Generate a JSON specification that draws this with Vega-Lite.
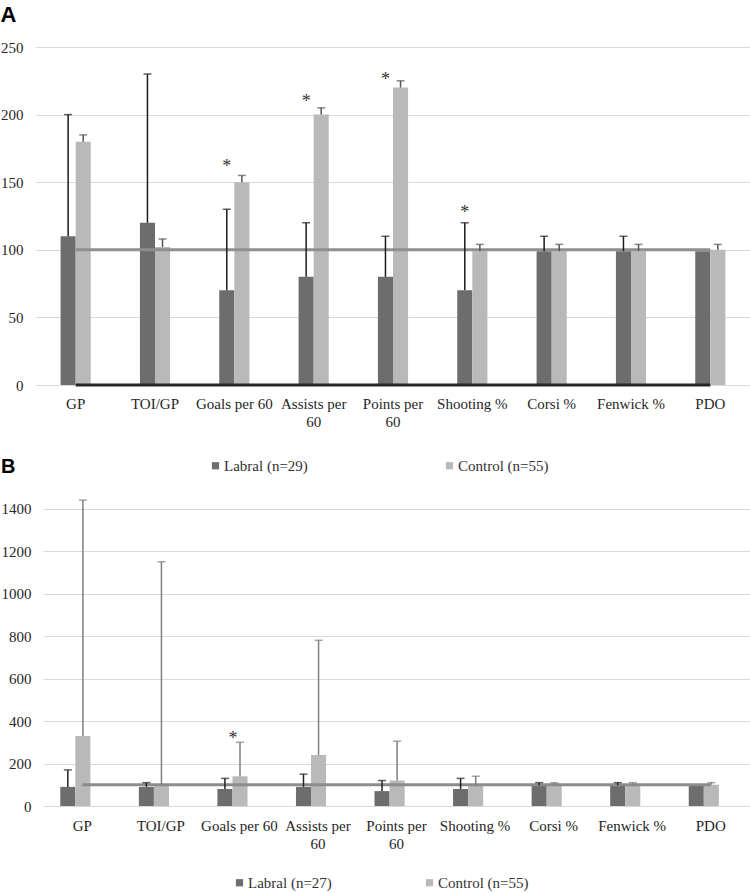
{
  "$schema": "https://vega.github.io/schema/vega-lite/v6.json",
  "background": "white",
  "padding": {"left": 0, "top": 4, "right": 0, "bottom": 0},
  "spacing": -17,
  "config": {
    "view": {"stroke": null},
    "axis": {"labelFont": "Liberation Serif", "labelFontSize": 15, "labelColor": "#262626", "domain": false, "ticks": false, "tickSize": 0, "title": null, "gridColor": "#d9d9d9", "gridWidth": 1.2},
    "title": {"font": "Liberation Sans", "fontWeight": "bold", "anchor": "start", "frame": "bounds", "color": "#000000", "baseline": "alphabetic"}
  },
  "datasets": {
    "A": [
      {"cat": "GP", "grp": "Labral", "series": "Labral (n=29)", "value": 110, "upper": 200, "star": null},
      {"cat": "GP", "grp": "Control", "series": "Control (n=55)", "value": 180, "upper": 185, "star": null},
      {"cat": "TOI/GP", "grp": "Labral", "series": "Labral (n=29)", "value": 120, "upper": 230, "star": null},
      {"cat": "TOI/GP", "grp": "Control", "series": "Control (n=55)", "value": 102, "upper": 108, "star": null},
      {"cat": "Goals per 60", "grp": "Labral", "series": "Labral (n=29)", "value": 70, "upper": 130, "star": 165},
      {"cat": "Goals per 60", "grp": "Control", "series": "Control (n=55)", "value": 150, "upper": 155, "star": null},
      {"cat": "Assists per 60", "grp": "Labral", "series": "Labral (n=29)", "value": 80, "upper": 120, "star": 213},
      {"cat": "Assists per 60", "grp": "Control", "series": "Control (n=55)", "value": 200, "upper": 205, "star": null},
      {"cat": "Points per 60", "grp": "Labral", "series": "Labral (n=29)", "value": 80, "upper": 110, "star": 229},
      {"cat": "Points per 60", "grp": "Control", "series": "Control (n=55)", "value": 220, "upper": 225, "star": null},
      {"cat": "Shooting %", "grp": "Labral", "series": "Labral (n=29)", "value": 70, "upper": 120, "star": 131},
      {"cat": "Shooting %", "grp": "Control", "series": "Control (n=55)", "value": 99, "upper": 104, "star": null},
      {"cat": "Corsi %", "grp": "Labral", "series": "Labral (n=29)", "value": 99, "upper": 110, "star": null},
      {"cat": "Corsi %", "grp": "Control", "series": "Control (n=55)", "value": 99, "upper": 104, "star": null},
      {"cat": "Fenwick %", "grp": "Labral", "series": "Labral (n=29)", "value": 99, "upper": 110, "star": null},
      {"cat": "Fenwick %", "grp": "Control", "series": "Control (n=55)", "value": 99, "upper": 104, "star": null},
      {"cat": "PDO", "grp": "Labral", "series": "Labral (n=29)", "value": 99, "upper": null, "star": null},
      {"cat": "PDO", "grp": "Control", "series": "Control (n=55)", "value": 100, "upper": 104, "star": null}
    ],
    "B": [
      {"cat": "GP", "grp": "Labral", "series": "Labral (n=27)", "value": 90, "upper": 170, "star": null},
      {"cat": "GP", "grp": "Control", "series": "Control (n=55)", "value": 330, "upper": 1440, "star": null},
      {"cat": "TOI/GP", "grp": "Labral", "series": "Labral (n=27)", "value": 90, "upper": 110, "star": null},
      {"cat": "TOI/GP", "grp": "Control", "series": "Control (n=55)", "value": 100, "upper": 1150, "star": null},
      {"cat": "Goals per 60", "grp": "Labral", "series": "Labral (n=27)", "value": 80, "upper": 130, "star": 337},
      {"cat": "Goals per 60", "grp": "Control", "series": "Control (n=55)", "value": 140, "upper": 300, "star": null},
      {"cat": "Assists per 60", "grp": "Labral", "series": "Labral (n=27)", "value": 90, "upper": 150, "star": null},
      {"cat": "Assists per 60", "grp": "Control", "series": "Control (n=55)", "value": 240, "upper": 780, "star": null},
      {"cat": "Points per 60", "grp": "Labral", "series": "Labral (n=27)", "value": 70, "upper": 120, "star": null},
      {"cat": "Points per 60", "grp": "Control", "series": "Control (n=55)", "value": 120, "upper": 305, "star": null},
      {"cat": "Shooting %", "grp": "Labral", "series": "Labral (n=27)", "value": 80, "upper": 130, "star": null},
      {"cat": "Shooting %", "grp": "Control", "series": "Control (n=55)", "value": 96, "upper": 140, "star": null},
      {"cat": "Corsi %", "grp": "Labral", "series": "Labral (n=27)", "value": 98, "upper": 110, "star": null},
      {"cat": "Corsi %", "grp": "Control", "series": "Control (n=55)", "value": 98, "upper": 110, "star": null},
      {"cat": "Fenwick %", "grp": "Labral", "series": "Labral (n=27)", "value": 98, "upper": 110, "star": null},
      {"cat": "Fenwick %", "grp": "Control", "series": "Control (n=55)", "value": 98, "upper": 110, "star": null},
      {"cat": "PDO", "grp": "Labral", "series": "Labral (n=27)", "value": 98, "upper": null, "star": null},
      {"cat": "PDO", "grp": "Control", "series": "Control (n=55)", "value": 100, "upper": 110, "star": null}
    ]
  },
  "vconcat": [
    {
      "title": {"text": "A", "fontSize": 22, "offset": 13},
      "width": 707,
      "height": 338,
      "data": {"name": "A"},
      "encoding": {
        "x": {"field": "cat", "type": "nominal", "sort": null,
          "scale": {"domain": ["GP", "TOI/GP", "Goals per 60", "Assists per 60", "Points per 60", "Shooting %", "Corsi %", "Fenwick %", "PDO"], "range": [-7, 707], "paddingInner": 0.62, "paddingOuter": 0.31},
          "axis": {"labelAngle": 0, "labelPadding": 11, "labelLineHeight": 18, "labelBaseline": "top", "grid": false,
            "labelExpr": "datum.label == 'Assists per 60' ? ['Assists per', '60'] : datum.label == 'Points per 60' ? ['Points per', '60'] : datum.label"}}
      },
      "layer": [
        {
          "mark": {"type": "bar"},
          "encoding": {
            "xOffset": {"field": "grp", "scale": {"domain": ["Labral", "Control"], "paddingInner": 0, "paddingOuter": 0}},
            "y": {"field": "value", "type": "quantitative", "scale": {"domain": [0, 250], "nice": false}, "axis": {"values": [0, 50, 100, 150, 200, 250], "format": "d", "labelPadding": 20}},
            "color": {"field": "series", "type": "nominal",
              "scale": {"domain": ["Labral (n=29)", "Control (n=55)"], "range": ["#6d6d6d", "#b9b9b9"]},
              "legend": {"orient": "none", "legendX": 165, "legendY": 411, "direction": "horizontal", "title": null, "symbolType": "square", "symbolSize": 52, "symbolStrokeWidth": 0, "labelFont": "Liberation Serif", "labelFontSize": 15, "labelColor": "#333333", "labelOffset": 1, "columnPadding": 134, "padding": 0}}
          }
        },
        {
          "transform": [{"filter": "datum.grp == 'Labral'"}],
          "mark": {"type": "line", "color": "#8f8f8f", "strokeWidth": 3},
          "encoding": {"y": {"datum": 100}}
        },
        {
          "transform": [{"filter": "datum.grp == 'Labral'"}],
          "mark": {"type": "line", "color": "#262626", "strokeWidth": 3},
          "encoding": {"y": {"datum": 0}}
        },
        {
          "transform": [{"filter": "isValid(datum.upper)"}],
          "mark": {"type": "rule", "strokeWidth": 1.5},
          "encoding": {
            "xOffset": {"field": "grp"},
            "y": {"field": "value", "type": "quantitative"},
            "y2": {"field": "upper"},
            "color": {"condition": {"test": "datum.grp == 'Labral'", "value": "#1c1c1c"}, "value": "#555555"}
          }
        },
        {
          "transform": [{"filter": "isValid(datum.upper)"}],
          "mark": {"type": "tick", "size": 8, "thickness": 1.5},
          "encoding": {
            "xOffset": {"field": "grp"},
            "y": {"field": "upper", "type": "quantitative"},
            "color": {"condition": {"test": "datum.grp == 'Labral'", "value": "#1c1c1c"}, "value": "#555555"}
          }
        },
        {
          "transform": [{"filter": "isValid(datum.star)"}],
          "mark": {"type": "text", "text": "*", "font": "Liberation Serif", "fontSize": 18, "color": "#333333", "baseline": "alphabetic", "dy": 10},
          "encoding": {
            "xOffset": {"field": "grp"},
            "y": {"field": "star", "type": "quantitative"}
          }
        }
      ]
    },
    {
      "title": {"text": "B", "fontSize": 20, "offset": 21},
      "width": 707,
      "height": 308,
      "data": {"name": "B"},
      "encoding": {
        "x": {"field": "cat", "type": "nominal", "sort": null,
          "scale": {"domain": ["GP", "TOI/GP", "Goals per 60", "Assists per 60", "Points per 60", "Shooting %", "Corsi %", "Fenwick %", "PDO"], "paddingInner": 0.44, "paddingOuter": 0.22},
          "axis": {"labelAngle": 0, "labelPadding": 12, "labelLineHeight": 18, "labelBaseline": "top", "grid": false,
            "labelExpr": "datum.label == 'Assists per 60' ? ['Assists per', '60'] : datum.label == 'Points per 60' ? ['Points per', '60'] : datum.label"}}
      },
      "layer": [
        {
          "mark": {"type": "bar"},
          "encoding": {
            "xOffset": {"field": "grp", "scale": {"domain": ["Labral", "Control"], "paddingInner": 0, "paddingOuter": 0}},
            "y": {"field": "value", "type": "quantitative", "scale": {"domain": [0, 1450], "nice": false}, "axis": {"values": [0, 200, 400, 600, 800, 1000, 1200, 1400], "format": "d", "labelPadding": 12}},
            "color": {"field": "series", "type": "nominal",
              "scale": {"domain": ["Labral (n=27)", "Control (n=55)"], "range": ["#6d6d6d", "#b9b9b9"]},
              "legend": {"orient": "none", "legendX": 189, "legendY": 377, "direction": "horizontal", "title": null, "symbolType": "square", "symbolSize": 52, "symbolStrokeWidth": 0, "labelFont": "Liberation Serif", "labelFontSize": 15, "labelColor": "#333333", "labelOffset": 1, "columnPadding": 90, "padding": 0}}
          }
        },
        {
          "transform": [{"filter": "datum.grp == 'Labral'"}],
          "mark": {"type": "line", "color": "#8c8c8c", "strokeWidth": 3},
          "encoding": {"y": {"datum": 100}}
        },
        {
          "transform": [{"filter": "isValid(datum.upper)"}],
          "mark": {"type": "rule", "strokeWidth": 1.5},
          "encoding": {
            "xOffset": {"field": "grp"},
            "y": {"field": "value", "type": "quantitative"},
            "y2": {"field": "upper"},
            "color": {"condition": {"test": "datum.grp == 'Labral'", "value": "#222222"}, "value": "#7f7f7f"}
          }
        },
        {
          "transform": [{"filter": "isValid(datum.upper)"}],
          "mark": {"type": "tick", "size": 8, "thickness": 1.5},
          "encoding": {
            "xOffset": {"field": "grp"},
            "y": {"field": "upper", "type": "quantitative"},
            "color": {"condition": {"test": "datum.grp == 'Labral'", "value": "#222222"}, "value": "#7f7f7f"}
          }
        },
        {
          "transform": [{"filter": "isValid(datum.star)"}],
          "mark": {"type": "text", "text": "*", "font": "Liberation Serif", "fontSize": 18, "color": "#333333", "baseline": "alphabetic", "dy": 10, "dx": 8},
          "encoding": {
            "xOffset": {"field": "grp"},
            "y": {"field": "star", "type": "quantitative"}
          }
        }
      ]
    }
  ],
  "resolve": {"scale": {"color": "independent"}, "legend": {"color": "independent"}}
}
